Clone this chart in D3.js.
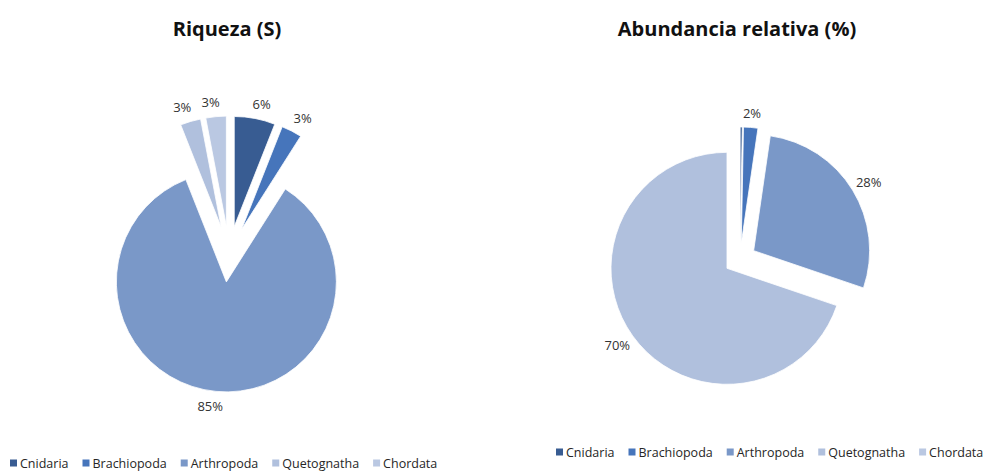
<!DOCTYPE html>
<html>
<head>
<meta charset="utf-8">
<script src="https://cdn.jsdelivr.net/npm/d3@7"></script>
<style>
  html, body { margin: 0; padding: 0; background: #ffffff; }
  svg { display: block; }
  text { font-family: "Open Sans", "Noto Sans", sans-serif; }
</style>
</head>
<body>
<svg id="chart" width="1008" height="472"></svg>
<script>
// Phyla shown in both charts (same order and colours)
const categories = ["Cnidaria", "Brachiopoda", "Arthropoda", "Quetognatha", "Chordata"];
const phylumColors = ["#385c92", "#4675bb", "#7a98c8", "#b0c0dd", "#bac8e2"];

// Riqueza (S): share of species per phylum, %
const richnessValues = [6, 3, 85, 3, 3];
// Abundancia relativa: share of individuals per phylum, %
const abundanceValues = [0.3, 2, 28, 70, 0];

const titles = ["Riqueza (S)", "Abundancia relativa (%)"];

const svg = d3.select("#chart");
const color = d3.scaleOrdinal().domain(categories).range(phylumColors);

function drawPie(opts) {
  const g = svg.append("g").attr("transform", `translate(${opts.cx},${opts.cy})`);
  const data = categories.map((c, i) => ({ name: c, value: opts.values[i] }));
  const pie = d3.pie().sort(null).value(d => d.value);
  const arcs = pie(data);
  const arc = d3.arc().innerRadius(0).outerRadius(opts.radius);

  const slice = g.selectAll("g.slice")
    .data(arcs.filter(a => a.data.value > 0))
    .join("g")
    .attr("class", "slice")
    .attr("transform", a => {
      const m = (a.startAngle + a.endAngle) / 2;
      return `translate(${Math.sin(m) * opts.explode},${-Math.cos(m) * opts.explode})`;
    });

  slice.append("path")
    .attr("d", arc)
    .attr("fill", a => color(a.data.name))
    .attr("stroke", "#ffffff")
    .attr("stroke-width", 0.8);

  // Percentage labels just outside each exploded slice
  const labelR = opts.radius + opts.explode + opts.labelPad;
  g.selectAll("text.pct")
    .data(arcs.filter(a => a.data.value >= 1))
    .join("text")
    .attr("class", "pct")
    .attr("font-size", 13)
    .attr("fill", "#333333")
    .attr("text-anchor", "middle")
    .attr("dominant-baseline", "central")
    .text(a => d3.format(".0f")(a.data.value) + "%")
    .each(function (a) {
      const m = (a.startAngle + a.endAngle) / 2;
      const dx = Math.sin(m), dy = -Math.cos(m);
      const bb = this.getBBox();
      d3.select(this)
        .attr("x", dx * labelR + dx * bb.width / 2 + Math.sign(dx) * opts.labelSpread)
        .attr("y", dy * labelR + dy * bb.height / 2);
    });

  svg.append("text")
    .attr("x", opts.titleX)
    .attr("y", 36)
    .attr("text-anchor", "middle")
    .attr("font-size", 20)
    .attr("font-weight", 700)
    .attr("fill", "#111111")
    .text(opts.title);

  // Legend row
  const leg = svg.append("g").attr("transform", `translate(${opts.legendX},${opts.legendY})`);
  let x = 0;
  categories.forEach(c => {
    const item = leg.append("g").attr("transform", `translate(${x},0)`);
    item.append("rect")
      .attr("x", 0).attr("y", -3.5)
      .attr("width", 7).attr("height", 7)
      .attr("fill", color(c));
    const t = item.append("text")
      .attr("x", 10)
      .attr("y", 0)
      .attr("dominant-baseline", "central")
      .attr("font-size", 12.5)
      .attr("fill", "#262626")
      .text(c);
    x += 10 + t.node().getComputedTextLength() + 14;
  });
}

drawPie({
  values: richnessValues, title: titles[0],
  cx: 229, cy: 254, radius: 110, explode: 28, labelPad: 6, labelSpread: 4,
  titleX: 227, legendX: 10, legendY: 463
});

drawPie({
  values: abundanceValues, title: titles[1],
  cx: 740, cy: 259, radius: 116, explode: 16, labelPad: 6, labelSpread: 0,
  titleX: 737, legendX: 556, legendY: 452
});
</script>
</body>
</html>
